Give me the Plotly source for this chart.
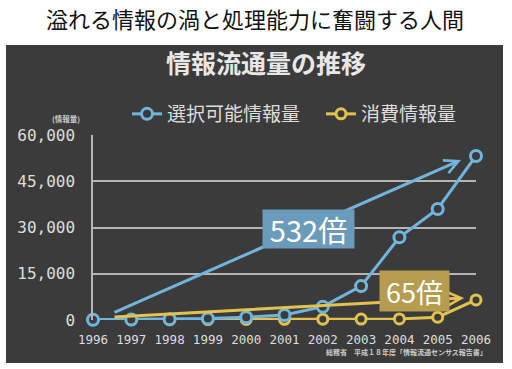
import plotly.graph_objects as go

# ---- data ----
years = [1996, 1997, 1998, 1999, 2000, 2001, 2002, 2003, 2004, 2005, 2006]
selectable = [100, 150, 250, 450, 870, 1620, 4320, 11000, 26800, 36000, 53200]
consumed = [100, 110, 120, 140, 170, 210, 260, 300, 350, 900, 6500]
y_ticks = [0, 15000, 30000, 45000, 60000]
y_tick_labels = ["0", "15,000", "30,000", "45,000", "60,000"]
series_names = ["選択可能情報量", "消費情報量"]

W, H = 512, 369
L, R, T, B = 93, 36, 135, 49
PW, PH = W - L - R, H - T - B

def px(x):
    return (x - L) / PW

def py(y):
    return (H - B - y) / PH

BG = "#3b3b3b"
BLUE = "#71b5dd"
GOLD = "#e2c24f"
TXT = "#dedede"

fig = go.Figure()

fig.add_trace(go.Scatter(
    x=years, y=consumed, name=series_names[1], mode="lines+markers",
    line=dict(color=GOLD, width=3),
    marker=dict(size=10, color=BG, line=dict(color=GOLD, width=3)),
    cliponaxis=False, legend="legend2",
))
fig.add_trace(go.Scatter(
    x=years, y=selectable, name=series_names[0], mode="lines+markers",
    line=dict(color=BLUE, width=3),
    marker=dict(size=11, color=BG, line=dict(color=BLUE, width=3)),
    cliponaxis=False, legend="legend",
))

shapes = [
    dict(type="rect", xref="paper", yref="paper", x0=px(6), x1=px(503), y0=py(363), y1=py(45),
         fillcolor=BG, line=dict(width=0), layer="below"),
]

annotations = [
    dict(text="溢れる情報の渦と処理能力に奮闘する人間", xref="paper", yref="paper",
         x=px(255), y=py(18), showarrow=False, xanchor="center", yanchor="middle",
         font=dict(family="Noto Sans CJK JP", size=22, color="#111111")),
    dict(text="<b>情報流通量の推移</b>", xref="paper", yref="paper",
         x=px(266), y=py(62), showarrow=False, xanchor="center", yanchor="middle",
         font=dict(family="Noto Sans CJK JP", size=25, color="#e8e8e8")),
    dict(text="<b>(情報量)</b>", xref="paper", yref="paper",
         x=px(66), y=py(118), showarrow=False, xanchor="center", yanchor="middle",
         font=dict(family="Noto Sans CJK JP", size=7.5, color="#cccccc")),
    dict(text="<b>総務省　平成１８年度「情報流通センサス報告書」</b>", xref="paper", yref="paper",
         x=px(489), y=py(352), showarrow=False, xanchor="right", yanchor="middle",
         font=dict(family="Noto Sans CJK JP", size=7, color="#cccccc")),
    # arrows
    dict(text="", xref="paper", yref="paper", x=px(461), y=py(160),
         axref="pixel", ayref="pixel", ax=113 - 461, ay=313 - 160,
         showarrow=True, arrowhead=5, arrowsize=0.9, arrowwidth=3, arrowcolor=BLUE),
    dict(text="", xref="paper", yref="paper", x=px(464), y=py(298),
         axref="pixel", ayref="pixel", ax=113 - 464, ay=317 - 298,
         showarrow=True, arrowhead=5, arrowsize=0.9, arrowwidth=3, arrowcolor=GOLD),
    # label boxes
    dict(text="532倍", xref="paper", yref="paper", x=px(308.5), y=py(229),
         showarrow=False, xanchor="center", yanchor="middle", width=91, height=38,
         bgcolor="#6b9bba", borderpad=0, valign="middle",
         font=dict(family="Noto Sans CJK JP", size=29, color="#ffffff")),
    dict(text="65倍", xref="paper", yref="paper", x=px(414.5), y=py(290.5),
         showarrow=False, xanchor="center", yanchor="middle", width=69, height=40,
         bgcolor="#b59c4e", borderpad=0, valign="middle",
         font=dict(family="Noto Sans CJK JP", size=27, color="#ffffff")),
]

legend_style = dict(orientation="h", xanchor="left", yanchor="middle",
                    bgcolor="rgba(0,0,0,0)", itemclick=False, itemdoubleclick=False,
                    font=dict(family="Noto Sans CJK JP", size=19, color=TXT))

fig.update_layout(
    width=W, height=H,
    margin=dict(l=L, r=R, t=T, b=B, pad=0),
    paper_bgcolor="#ffffff", plot_bgcolor="rgba(0,0,0,0)",
    shapes=shapes, annotations=annotations,
    showlegend=True,
    legend=dict(x=px(127), y=py(114), **legend_style),
    legend2=dict(x=px(321), y=py(114), **legend_style),
    xaxis=dict(range=[1996, 2006], tickmode="array", tickvals=years, ticktext=[str(y) for y in years],
               showgrid=False, zeroline=False, showline=False,
               ticks="outside", ticklen=8, tickcolor="rgba(0,0,0,0)",
               tickfont=dict(family="DejaVu Sans Mono", size=12.5, color=TXT), fixedrange=True),
    yaxis=dict(range=[0, 60000], tickmode="array", tickvals=y_ticks, ticktext=y_tick_labels,
               showgrid=True, gridcolor="#b5b5b5", gridwidth=1.5, zeroline=False,
               showline=True, linecolor="#b5b5b5", linewidth=1.5,
               ticks="outside", ticklen=13, tickcolor="rgba(0,0,0,0)",
               tickfont=dict(family="DejaVu Sans Mono", size=16, color=TXT), fixedrange=True),
)

fig.write_html("out.html", config={"displayModeBar": False},
               post_script="document.body.style.margin='0';document.body.style.padding='0';")
